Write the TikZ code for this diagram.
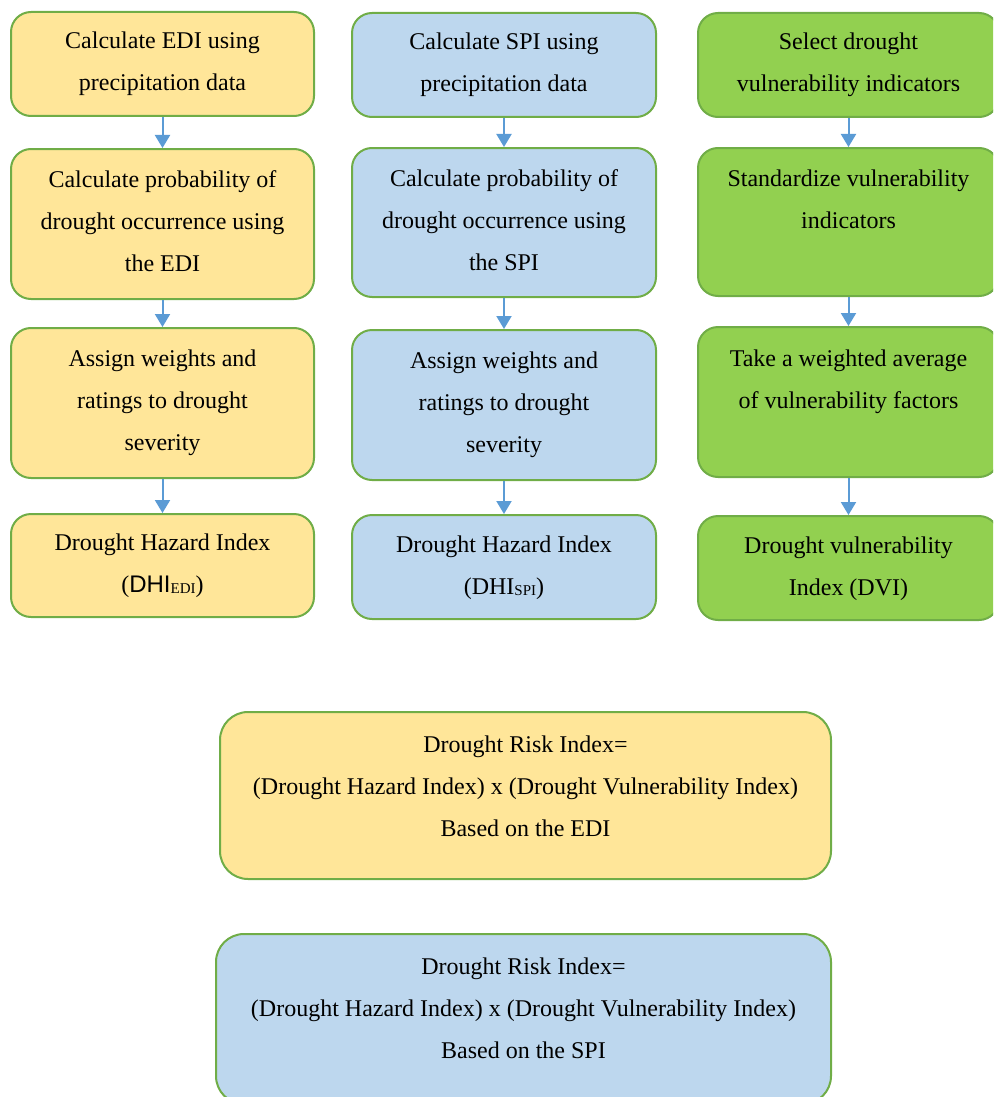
\documentclass[tikz,border=0pt]{standalone}
\usepackage{fontspec}
\setmainfont{Liberation Serif}
\newfontfamily\arialfont{Liberation Sans}
\usetikzlibrary{arrows.meta}
\definecolor{boxyellow}{HTML}{FFE699}
\definecolor{boxblue}{HTML}{BDD7EE}
\definecolor{boxgreen}{HTML}{92D050}
\definecolor{edgegreen}{HTML}{70AD47}
\definecolor{arrowblue}{HTML}{5B9BD5}
% width, height, first-baseline offset, text
\newcommand{\bt}[4]{\parbox[c][#2][t]{#1}{\fontsize{24}{42}\selectfont\centering\rule{0pt}{#3}#4\par}}
\newcommand{\subtxt}[1]{{\fontsize{15}{15}\selectfont\raisebox{-1.5pt}{#1}}}
\begin{document}
\begin{tikzpicture}[x=1pt,y=-1pt,
  flowbox/.style={draw=edgegreen, line width=2pt, rounded corners=20pt, inner sep=0pt, anchor=north west},
  bigbox/.style={flowbox, rounded corners=28pt},
  arr/.style={draw=arrowblue, line width=2pt, -{Triangle[width=15pt,length=13pt]}}]
\useasboundingbox (0,0) rectangle (993,1097);
\clip (0,0) rectangle (993,1097);
% column 1 (EDI)
\node[flowbox, fill=boxyellow] (a1) at (10,11) {\bt{303pt}{104pt}{37pt}{Calculate EDI using\\precipitation data}};
\node[flowbox, fill=boxyellow] (a2) at (10,148) {\bt{303pt}{150pt}{38pt}{Calculate probability of\\drought occurrence using\\the EDI}};
\node[flowbox, fill=boxyellow] (a3) at (10,327) {\bt{303pt}{150pt}{38pt}{Assign weights and\\ratings to drought\\severity}};
\node[flowbox, fill=boxyellow] (a4) at (10,513) {\bt{303pt}{103pt}{36pt}{Drought Hazard Index\\({\arialfont DHI}\subtxt{EDI})}};
% column 2 (SPI)
\node[flowbox, fill=boxblue] (b1) at (351,12) {\bt{304pt}{104pt}{37pt}{Calculate SPI using\\precipitation data}};
\node[flowbox, fill=boxblue] (b2) at (351,147) {\bt{304pt}{149pt}{38pt}{Calculate probability of\\drought occurrence using\\the SPI}};
\node[flowbox, fill=boxblue] (b3) at (351,329) {\bt{304pt}{150pt}{38pt}{Assign weights and\\ratings to drought\\severity}};
\node[flowbox, fill=boxblue] (b4) at (351,514) {\bt{304pt}{104pt}{37pt}{Drought Hazard Index\\(DHI\subtxt{SPI})}};
% column 3 (vulnerability)
\node[flowbox, fill=boxgreen] (c1) at (697,12) {\bt{301pt}{104pt}{37pt}{Select drought\\vulnerability indicators}};
\node[flowbox, fill=boxgreen] (c2) at (697,147) {\bt{301pt}{148pt}{38pt}{Standardize vulnerability\\indicators}};
\node[flowbox, fill=boxgreen] (c3) at (697,326) {\bt{301pt}{150pt}{39pt}{Take a weighted average\\of vulnerability factors}};
\node[flowbox, fill=boxgreen] (c4) at (697,515) {\bt{301pt}{104pt}{37pt}{Drought vulnerability\\Index (DVI)}};
% risk index boxes
\node[bigbox, fill=boxyellow] (d) at (219,711) {\bt{611pt}{167pt}{40pt}{Drought Risk Index=\\(Drought Hazard Index) x (Drought Vulnerability Index)\\Based on the EDI}};
\node[bigbox, fill=boxblue] (e) at (215,933) {\bt{615pt}{170pt}{40pt}{Drought Risk Index=\\(Drought Hazard Index) x (Drought Vulnerability Index)\\Based on the SPI}};
% arrows
\draw[arr] (a1.south) -- (a2.north);
\draw[arr] (a2.south) -- (a3.north);
\draw[arr] (a3.south) -- (a4.north);
\draw[arr] (b1.south) -- (b2.north);
\draw[arr] (b2.south) -- (b3.north);
\draw[arr] (b3.south) -- (b4.north);
\draw[arr] (c1.south) -- (c2.north);
\draw[arr] (c2.south) -- (c3.north);
\draw[arr] (c3.south) -- (c4.north);
\end{tikzpicture}
\end{document}
